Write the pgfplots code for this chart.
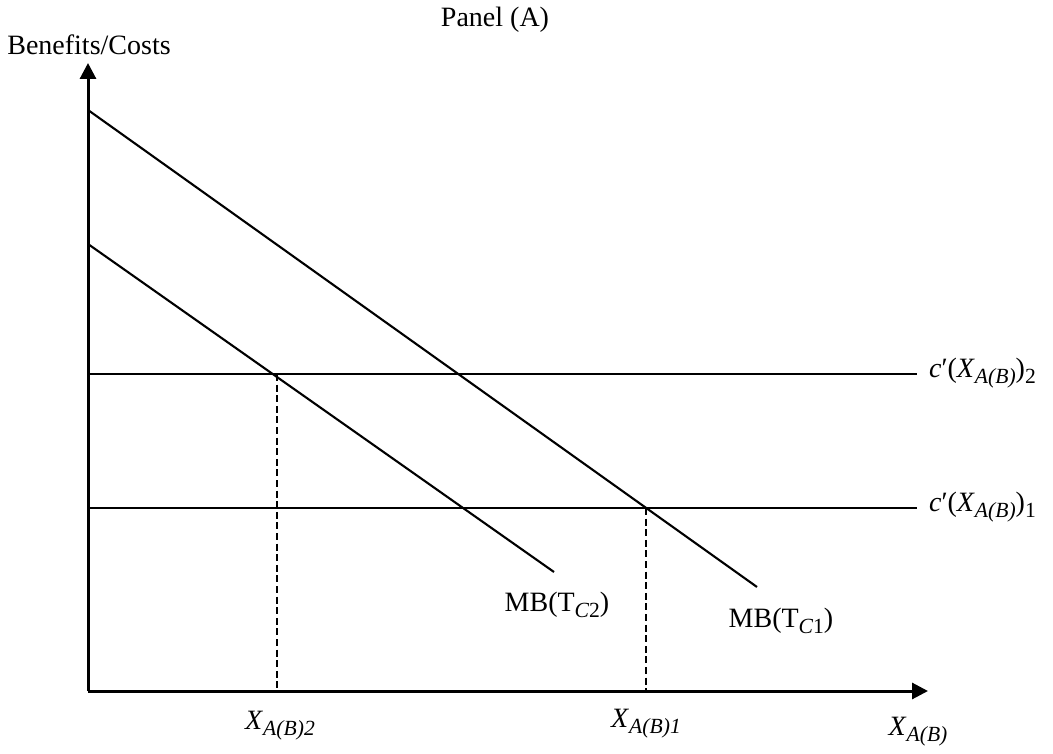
\documentclass[border=0pt]{standalone}
\usepackage{fontspec}
\setmainfont{Liberation Serif}
\usepackage{pgfplots}
\pgfplotsset{compat=1.18}
\usetikzlibrary{arrows.meta}
\newcommand{\sub}[1]{\raisebox{-0.22em}{\fontsize{10.8}{12}\selectfont #1}}
\begin{document}
\begin{tikzpicture}
\begin{axis}[
  at={(0,0)}, anchor=south west,
  scale only axis, width=526.5pt, height=375.5pt,
  xmin=0, xmax=1053, ymin=0, ymax=751,
  hide axis, clip=false,
]
\path (axis cs:0,0) (axis cs:1053,751);
% axes
\addplot[black, line width=1.5pt, -{Triangle[length=8pt,width=8pt]}] coordinates {(88,60) (88,688)};
\addplot[black, line width=1.5pt, -{Triangle[length=8pt,width=8pt]}] coordinates {(88,60) (928,60)};
% MB curves
\addplot[black, line width=1.05pt] coordinates {(88,641) (757,164)};
\addplot[black, line width=1.05pt] coordinates {(88,507) (554,179)};
% marginal cost lines
\addplot[black, line width=1.05pt] coordinates {(88,377) (917,377)};
\addplot[black, line width=1.05pt] coordinates {(88,243) (917,243)};
% dashed verticals
\addplot[black, line width=1.05pt, dash pattern=on 3.5pt off 1.8pt] coordinates {(277,377) (277,60)};
\addplot[black, line width=1.05pt, dash pattern=on 3.5pt off 1.8pt] coordinates {(646,243) (646,60)};
% labels
\node[font=\fontsize{14}{16}\selectfont] at (axis cs:495,731) {Panel (A)};
\node[font=\fontsize{14}{16}\selectfont] at (axis cs:89,706) {Benefits/Costs};
\node[font=\fontsize{14}{16}\selectfont, anchor=west] at (axis cs:922,378) {\textit{c}′(\textit{X}\sub{\itshape A(B)})\sub{2}};
\node[font=\fontsize{14}{16}\selectfont, anchor=west] at (axis cs:922,244) {\textit{c}′(\textit{X}\sub{\itshape A(B)})\sub{1}};
\node[font=\fontsize{14}{16}\selectfont] at (axis cs:557,146) {MB(T\sub{\itshape C\upshape 2})};
\node[font=\fontsize{14}{16}\selectfont] at (axis cs:781,130) {MB(T\sub{\itshape C\upshape 1})};
\node[font=\fontsize{14}{16}\selectfont] at (axis cs:280,25) {\textit{X}\sub{\itshape A(B)2}};
\node[font=\fontsize{14}{16}\selectfont] at (axis cs:646,27) {\textit{X}\sub{\itshape A(B)1}};
\node[font=\fontsize{14}{16}\selectfont] at (axis cs:918,19) {\textit{X}\sub{\itshape A(B)}};
\end{axis}
\end{tikzpicture}
\end{document}
